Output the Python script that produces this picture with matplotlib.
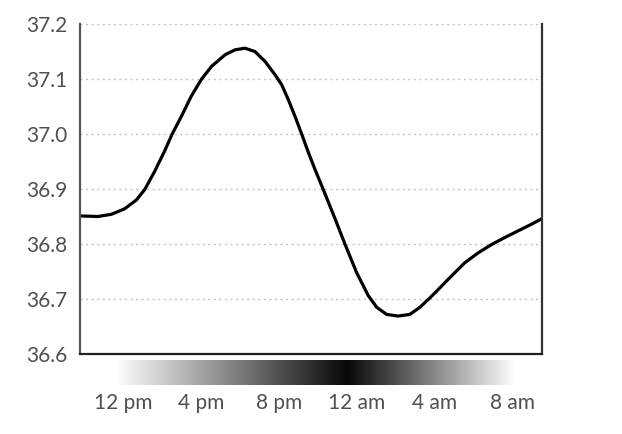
import numpy as np
import matplotlib
matplotlib.use("Agg")
import matplotlib.pyplot as plt

# hours since midnight of day one (24 = 12 am)
hours = [9.87, 10.72, 11.41, 12.09, 12.69, 13.12, 13.63, 14.14, 14.53, 15.0,
         15.51, 16.04, 16.55, 17.24, 17.75, 18.26, 18.77, 19.29, 19.8, 20.14,
         20.48, 20.83, 21.17, 21.51, 21.85, 22.28, 22.85, 23.39, 23.99, 24.59,
         25.02, 25.53, 26.12, 26.72, 27.24, 27.75, 28.17, 28.86, 29.54, 30.23,
         30.91, 31.6, 32.28, 32.96, 33.49]
temps = [36.851, 36.850, 36.854, 36.864, 36.880, 36.899, 36.932, 36.969, 37.000,
         37.032, 37.069, 37.100, 37.123, 37.144, 37.153, 37.156, 37.150, 37.132,
         37.108, 37.090, 37.063, 37.032, 37.000, 36.967, 36.936, 36.899, 36.849,
         36.800, 36.748, 36.706, 36.685, 36.672, 36.669, 36.672, 36.685, 36.702,
         36.717, 36.742, 36.766, 36.784, 36.799, 36.812, 36.824, 36.836, 36.846]

tick_hours = [12, 16, 20, 24, 28, 32]
tick_labels = ["12 pm", "4 pm", "8 pm", "12 am", "4 am", "8 am"]
y_ticks = [36.6, 36.7, 36.8, 36.9, 37.0, 37.1, 37.2]

# darkness band: white around midday, black at midnight
dark_hours = [11.6, 23.5, 32.1]
dark_level = [0.0, 1.0, 0.0]

x_min, x_max = 9.8, 33.5

plt.rcParams["font.family"] = ["Lato", "DejaVu Sans"]

fig = plt.figure(figsize=(6.22, 4.34), dpi=100)
ax = fig.add_axes([0.1286, 0.1843, 0.7428, 0.7604])
band = fig.add_axes([0.1286, 0.1129, 0.7428, 0.0576], sharex=ax)

ax.plot(hours, temps, color="black", lw=2.3, solid_joinstyle="round",
        solid_capstyle="round")
ax.set_xlim(x_min, x_max)
ax.set_ylim(36.6, 37.2)
ax.set_yticks(y_ticks)
ax.set_yticklabels([f"{v:.1f}" for v in y_ticks])
for v in y_ticks[1:]:
    ax.axhline(v, color="#c4c4c4", lw=1.0, ls=(0, (1.5, 2.5)), zorder=0)
ax.tick_params(axis="y", length=0, pad=9, labelsize=15, labelcolor="#505050")
ax.tick_params(axis="x", length=0, labelbottom=False)
ax.spines["top"].set_visible(False)
ax.spines["left"].set_color("#555555")
ax.spines["left"].set_linewidth(1.6)
ax.spines["right"].set_color("#333333")
ax.spines["right"].set_linewidth(1.6)
ax.spines["bottom"].set_color("#222222")
ax.spines["bottom"].set_linewidth(1.6)

xs = np.linspace(x_min, x_max, 800)
level = np.interp(xs, dark_hours, dark_level)
img = np.ones((1, len(xs), 3))
img[0, :, :] = (1 - 0.97 * level)[:, None]
band.imshow(img, aspect="auto", extent=[x_min, x_max, 0, 1], interpolation="bilinear")
band.set_xticks(tick_hours)
band.set_xticklabels(tick_labels)
band.set_yticks([])
band.tick_params(axis="x", length=0, pad=6, labelsize=15, labelcolor="#505050")
for s in band.spines.values():
    s.set_visible(False)

fig.savefig("out.png", dpi=100, facecolor="white")
